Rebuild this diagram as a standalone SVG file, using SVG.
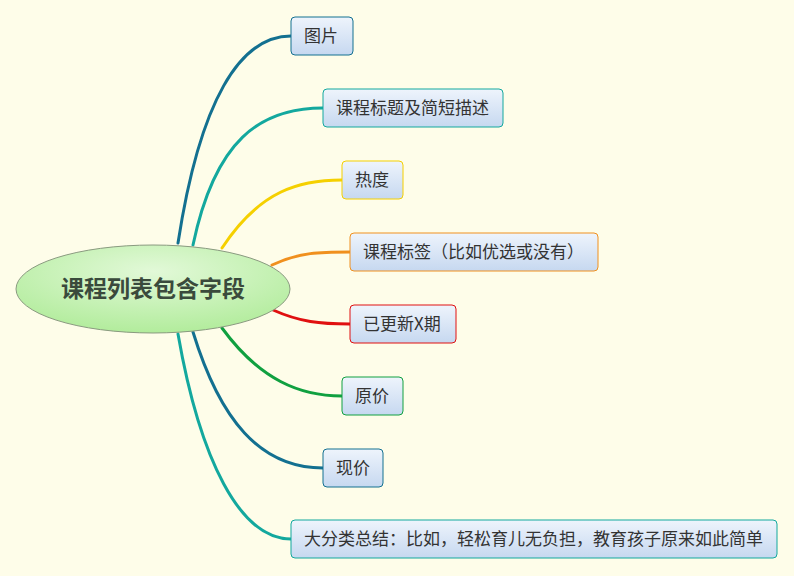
<svg xmlns="http://www.w3.org/2000/svg" width="794" height="576" viewBox="0 0 794 576">
<defs>
<linearGradient id="nf" x1="0" y1="0" x2="0" y2="1"><stop offset="0" stop-color="#eef4fc"/><stop offset="1" stop-color="#c6d8f0"/></linearGradient>
<radialGradient id="cf" cx="0.5" cy="0.3" r="0.7"><stop offset="0" stop-color="#e2f9d8"/><stop offset="1" stop-color="#b2ec9c"/></radialGradient>
<style>
.n{fill:url(#nf);stroke-width:1}
.t{font-family:"Noto Sans CJK SC","Liberation Sans",sans-serif;font-size:17px;fill:#333}
.c{fill:none;stroke-linecap:round}
.w{stroke-width:3}
</style>
</defs>
<rect width="794" height="576" fill="#fefde9"/>
<g id="connectors">
<path class="c w" stroke="#137090" d="M178,243 C200,100 240,36 291,36"/>
<path class="c w" stroke="#13a89e" d="M193,245 C215,140 260,108 323,108"/>
<path class="c w" stroke="#f5d000" d="M222,248 C260,190 300,180 342,180"/>
<path class="c w" stroke="#f0901e" d="M272,265 C300,252 320,252 350,252"/>
<path class="c w" stroke="#e01010" d="M273,310 C300,322 320,324 350,324"/>
<path class="c w" stroke="#10a040" d="M222,328 C260,380 300,396 342,396"/>
<path class="c w" stroke="#137090" d="M193,332 C220,420 260,468 323,468"/>
<path class="c w" stroke="#13a89e" d="M178,334 C200,460 240,539 291,539"/>
</g>
<g id="center"><ellipse cx="153" cy="289" rx="137" ry="44" fill="url(#cf)" stroke="#8a9a80"/>
<text x="153" y="297" text-anchor="middle" font-family="Noto Sans CJK SC,sans-serif" font-size="23" font-weight="bold" fill="#3a4a3c">课程列表包含字段</text></g>
<g id="n1"><rect class="n" x="291" y="17" width="62" height="38" rx="4" stroke="#137090"/><text class="t" x="304" y="42">图片</text></g>
<g id="n2"><rect class="n" x="323" y="89" width="180" height="38" rx="4" stroke="#13a89e"/><text class="t" x="336" y="114">课程标题及简短描述</text></g>
<g id="n3"><rect class="n" x="342" y="161" width="61" height="38" rx="4" stroke="#f5d000"/><text class="t" x="355" y="186">热度</text></g>
<g id="n4"><rect class="n" x="350" y="233" width="248" height="38" rx="4" stroke="#f0901e"/><text class="t" x="363" y="258">课程标签（比如优选或没有）</text></g>
<g id="n5"><rect class="n" x="350" y="305" width="106" height="38" rx="4" stroke="#e01010"/><text class="t" x="363" y="330">已更新X期</text></g>
<g id="n6"><rect class="n" x="342" y="377" width="61" height="38" rx="4" stroke="#10a040"/><text class="t" x="355" y="402">原价</text></g>
<g id="n7"><rect class="n" x="323" y="449" width="60" height="38" rx="4" stroke="#137090"/><text class="t" x="336" y="474">现价</text></g>
<g id="n8"><rect class="n" x="291" y="520" width="486" height="38" rx="4" stroke="#13a89e"/><text class="t" x="304" y="545">大分类总结：比如，轻松育儿无负担，教育孩子原来如此简单</text></g>
</svg>
